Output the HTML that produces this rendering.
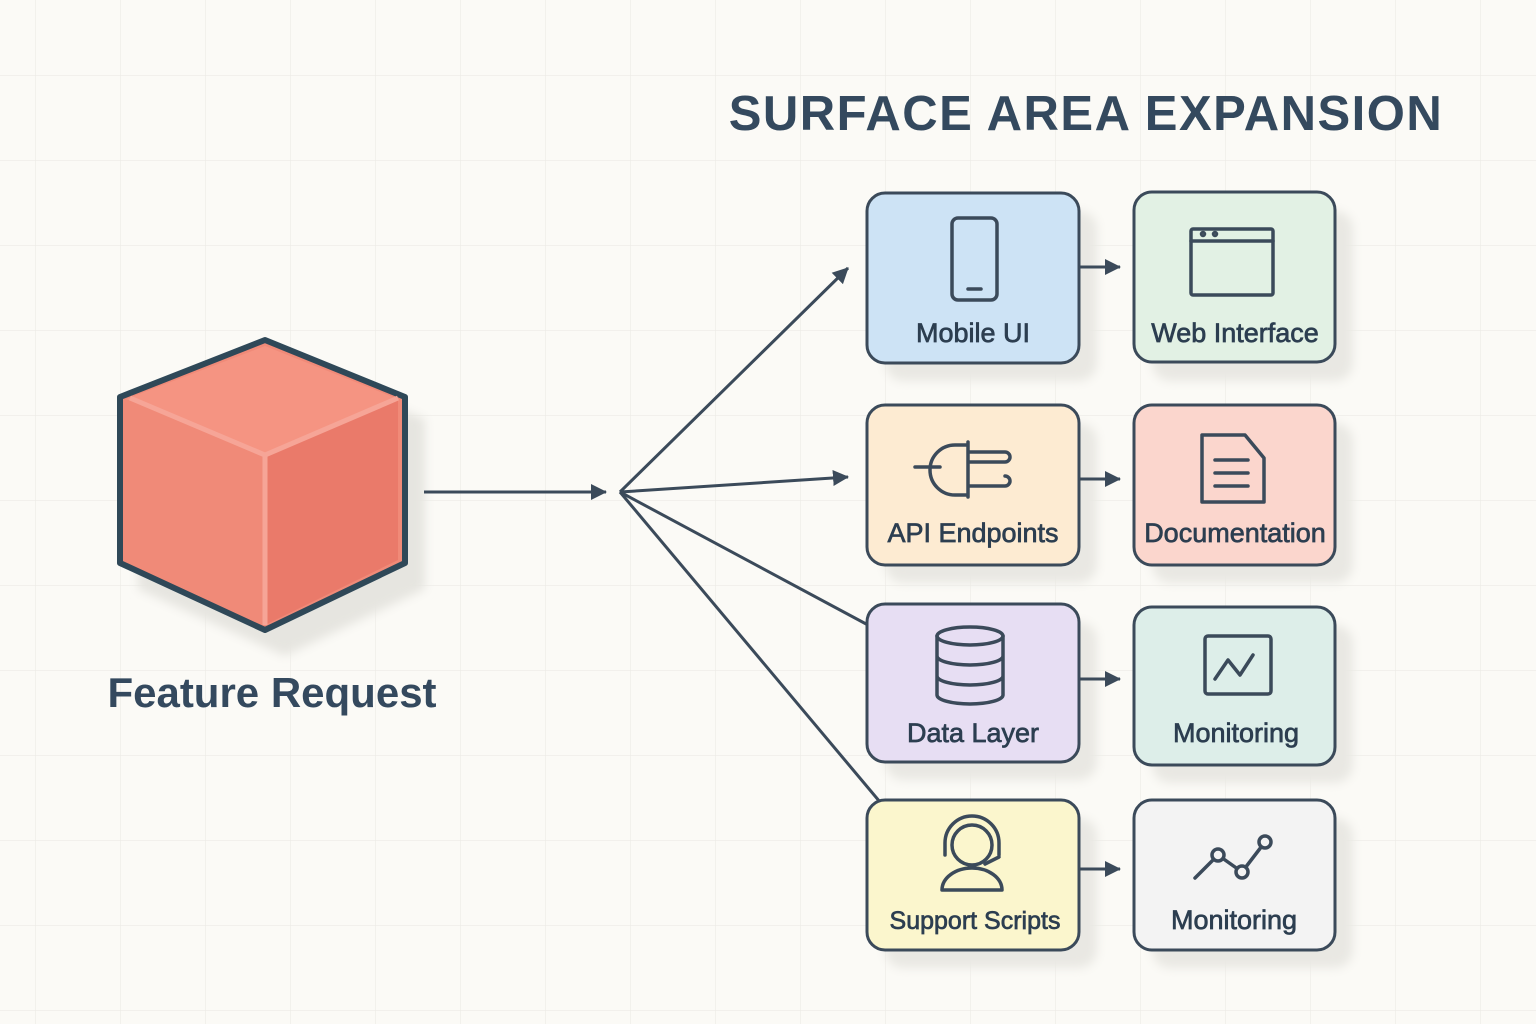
<!DOCTYPE html>
<html><head><meta charset="utf-8"><style>
body{margin:0;width:1536px;height:1024px;overflow:hidden;background:#fbfaf6;font-family:"Liberation Sans",sans-serif;}
svg{position:absolute;left:0;top:0}
</style></head><body>
<svg width="1536" height="1024" viewBox="0 0 1536 1024">
<defs>
<pattern id="g" width="85" height="85" patternUnits="userSpaceOnUse" x="35" y="-10"><path d="M0 0H85M0 0V85" stroke="#ecebe6" stroke-width="1.2" fill="none"/></pattern>
<marker id="b" markerWidth="18" markerHeight="18" refX="15" refY="8" orient="auto" markerUnits="userSpaceOnUse"><path d="M0 0L16 8L0 16z" fill="#3b4a5a"/></marker>
<filter id="bl"><feGaussianBlur stdDeviation="5"/></filter>
</defs>
<rect width="1536" height="1024" fill="url(#g)"/>
<text x="1086" y="130" text-anchor="middle" font-size="49" font-weight="bold" fill="#34495e" letter-spacing="1.5">SURFACE AREA EXPANSION</text>
<path d="M285 362L425 419V589L285 656L138 589V419z" fill="#e6e5e0" filter="url(#bl)"/>
<path d="M265 340L405 397V563L265 630L120 563V397z" fill="#f08a78" stroke="#2f4858" stroke-width="6" stroke-linejoin="round"/>
<path d="M265 346L398 399L265 455L126 399z" fill="#f59482"/>
<path d="M265 455L398 399V560L265 625z" fill="#ea7a6a"/>
<path d="M130 398L265 455L398 398M265 455V625" stroke="#f6a597" stroke-width="5" fill="none"/>
<text x="272" y="707" text-anchor="middle" font-size="42" font-weight="bold" fill="#34495e">Feature Request</text>
<g fill="#e9e8e3" filter="url(#bl)">
<rect x="885" y="211" width="212" height="170" rx="18"/>
<rect x="1152" y="211" width="201" height="170" rx="18"/>
<rect x="885" y="423" width="212" height="160" rx="18"/>
<rect x="1152" y="423" width="201" height="160" rx="18"/>
<rect x="885" y="622" width="212" height="158" rx="18"/>
<rect x="1152" y="625" width="201" height="158" rx="18"/>
<rect x="885" y="818" width="212" height="150" rx="18"/>
<rect x="1152" y="818" width="201" height="150" rx="18"/>
</g>
<g stroke="#3b4a5a" stroke-width="3" fill="none">
<line x1="424" y1="492" x2="606" y2="492" marker-end="url(#b)"/>
<line x1="620" y1="492" x2="848" y2="268" marker-end="url(#b)"/>
<line x1="620" y1="492" x2="848" y2="477" marker-end="url(#b)"/>
<line x1="620" y1="492" x2="868" y2="625"/>
<line x1="620" y1="492" x2="880" y2="802"/>
<line x1="1080" y1="267" x2="1120" y2="267" marker-end="url(#b)"/>
<line x1="1080" y1="479" x2="1120" y2="479" marker-end="url(#b)"/>
<line x1="1080" y1="679" x2="1120" y2="679" marker-end="url(#b)"/>
<line x1="1080" y1="869" x2="1120" y2="869" marker-end="url(#b)"/>
</g>
<g stroke="#3b4a5a" stroke-width="3">
<rect x="867" y="193" width="212" height="170" rx="18" fill="#cde3f5"/>
<rect x="1134" y="192" width="201" height="170" rx="18" fill="#e2f1e4"/>
<rect x="867" y="405" width="212" height="160" rx="18" fill="#fdebd2"/>
<rect x="1134" y="405" width="201" height="160" rx="18" fill="#fbd6cd"/>
<rect x="867" y="604" width="212" height="158" rx="18" fill="#e7def3"/>
<rect x="1134" y="607" width="201" height="158" rx="18" fill="#ddeee9"/>
<rect x="867" y="800" width="212" height="150" rx="18" fill="#fbf6cd"/>
<rect x="1134" y="800" width="201" height="150" rx="18" fill="#f3f3f3"/>
</g>
<g stroke="#3b4a5a" stroke-width="3.5" fill="none" stroke-linecap="round" stroke-linejoin="round">
<rect x="952" y="218" width="45" height="82" rx="6"/><line x1="968" y1="289" x2="981" y2="289"/>
<rect x="1191" y="229" width="82" height="66" rx="2"/><line x1="1191" y1="241" x2="1273" y2="241"/>
<circle cx="1203" cy="234" r="1.5"/><circle cx="1215" cy="234" r="1.5"/>
<path d="M915 467H940M968 442V497M968 445H955A22 22 0 0 0 955 495H968M968 452H1005M968 486H1005M1005 452a4 4 0 0 1 0 10H968M1005 476a4 4 0 0 1 0 10"/>
<path d="M1202 435H1245L1264 458V502H1202z"/><path d="M1215 460H1248M1215 473H1248M1215 486H1248"/>
<ellipse cx="970" cy="636" rx="33" ry="9"/><path d="M937 636V695A33 9 0 0 0 1003 695V636M937 656A33 9 0 0 0 1003 656M937 676A33 9 0 0 0 1003 676"/>
<rect x="1205" y="636" width="66" height="58" rx="3"/><path d="M1215 679L1228 660L1240 675L1253 655"/>
<circle cx="972" cy="845" r="20"/><path d="M945 855V843A27 27 0 0 1 999 843V855M999 857L985 864M942 890A30 22 0 0 1 1002 890z"/>
<path d="M1195 878L1218 855L1242 872L1265 842"/>
<circle cx="1218" cy="855" r="6" fill="#f3f3f3"/><circle cx="1242" cy="872" r="6" fill="#f3f3f3"/><circle cx="1265" cy="842" r="6" fill="#f3f3f3"/>
</g>
<g font-size="27" fill="#2c3e50" text-anchor="middle" stroke="#2c3e50" stroke-width="0.7">
<text x="973" y="342">Mobile UI</text>
<text x="1235" y="342">Web Interface</text>
<text x="973" y="542">API Endpoints</text>
<text x="1235" y="542">Documentation</text>
<text x="973" y="742">Data Layer</text>
<text x="1236" y="742">Monitoring</text>
<text x="975" y="929" font-size="25">Support Scripts</text>
<text x="1234" y="929">Monitoring</text>
</g>
</svg>
</body></html>
